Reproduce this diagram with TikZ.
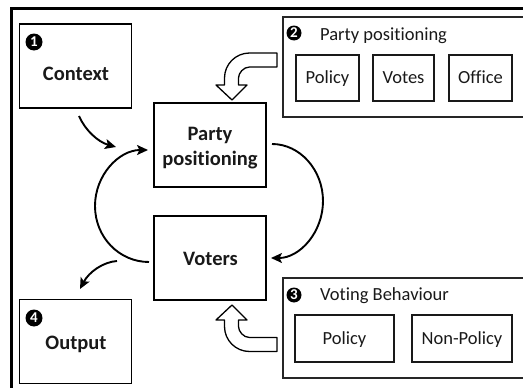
\documentclass[tikz,border=0pt]{standalone}
\usepackage{fontspec}
\setmainfont{Carlito}[Ligatures={NoCommon},RawFeature={-calt;-dlig}]
\usetikzlibrary{arrows.meta}
\begin{document}
\begin{tikzpicture}[x=1pt,y=-1pt,
  mainbox/.style={draw=black,line width=1.3pt,minimum width=112pt,minimum height=84pt,inner sep=0pt},
  maintext/.style={anchor=base,inner sep=0pt,font=\fontsize{20.5}{25}\selectfont\bfseries,text=black!90},
  groupbox/.style={draw=black!85,line width=1.3pt,minimum width=257pt,minimum height=100pt,inner sep=0pt},
  grouptext/.style={anchor=base west,inner sep=0pt,font=\fontsize{18.5}{22}\selectfont,text=black!90},
  subbox/.style={draw=black!90,line width=1.2pt,minimum height=46pt,inner sep=0pt,text height=11pt,text depth=0pt,font=\fontsize{18.5}{22}\selectfont,text=black!90},
  badge/.style={circle,fill=black,text=white,inner sep=0pt,minimum size=#1,font=\fontsize{15}{15}\selectfont\bfseries},
  flow/.style={line width=1.9pt,-{Stealth[length=11pt,width=10pt,inset=2.5pt]}},
  blockarrow/.style={draw=black,line width=1.3pt,fill=white,line join=round}
]
\useasboundingbox (0,0) rectangle (523,388);
\clip (0,0) rectangle (523,388);
% outer frame
\draw[line width=2.4pt] (11.3,8.3) rectangle (540,400);

% main boxes
\node[mainbox] (ctx) at (75.5,66) {};
\node[maintext] (ctxt) at (76,80) {Context};
\node[badge=17pt] (b1) at (34,42) {1};

\node[mainbox] (party) at (210,145) {};
\node[maintext] (partyt1) at (210,140) {Party};
\node[maintext] (partyt2) at (210,165) {positioning};

\node[mainbox] (voters) at (210,258) {};
\node[maintext] (voterst) at (210.5,265) {Voters};

\node[mainbox] (out) at (75.5,341.5) {};
\node[maintext] (outt) at (76,349) {Output};
\node[badge=17pt] (b4) at (34,318) {4};

% group 2
\node[groupbox] (g2) at (411.5,67) {};
\node[badge=15pt] (b2) at (294,33) {2};
\node[grouptext] (g2t) at (320,40) {Party positioning};
\node[subbox,minimum width=63pt] (p1) at (327.5,78) {Policy};
\node[subbox,minimum width=61pt] (p2) at (403.5,78) {Votes};
\node[subbox,minimum width=63pt] (p3) at (480.5,78) {Office};

% group 3
\node[groupbox] (g3) at (411.5,328) {};
\node[badge=15pt] (b3) at (294,295) {3};
\node[grouptext] (g3t) at (320,300) {Voting Behaviour};
\node[subbox,minimum width=99pt,minimum height=47pt] (v1) at (344.5,338.5) {Policy};
\node[subbox,minimum width=100pt,minimum height=47pt] (v2) at (462,338.5) {Non-Policy};

% block arrows
\draw[blockarrow] (232,100) -- (216,85) -- (224.5,85) -- (224.5,78)
  .. controls (224.5,64.2) and (235.7,53) .. (249.5,53) -- (277,53) -- (277,67) -- (249.5,67)
  .. controls (243.4,67) and (238.5,73.1) .. (238.5,78) -- (238.5,85) -- (247,85) -- cycle;
\draw[blockarrow] (232,305) -- (216,320) -- (224.5,320) -- (224.5,326.5)
  .. controls (224.5,340.3) and (235.7,351.5) .. (249.5,351.5) -- (277,351.5) -- (277,337.5) -- (249.5,337.5)
  .. controls (243.4,337.5) and (238.5,331.4) .. (238.5,326.5) -- (238.5,320) -- (247,320) -- cycle;

% flow arrows
\coordinate (c1s) at (79,116);
\coordinate (c1e) at (116,147);
\draw[flow] (c1s) .. controls (85,130) and (98,142) .. (c1e);

\coordinate (c2s) at (149,262);
\coordinate (c2m) at (95,206);
\coordinate (c2e) at (148,150);
\draw[flow] (c2s) .. controls (119,262) and (95,237) .. (c2m) .. controls (95,175) and (119,150) .. (c2e);

\coordinate (c3s) at (272,144);
\coordinate (c3m) at (323,201);
\coordinate (c3e) at (271,258);
\draw[flow] (c3s) .. controls (300,144) and (323,170) .. (c3m) .. controls (323,232) and (300,258) .. (c3e);

\coordinate (c4s) at (117,261);
\coordinate (c4e) at (80,289);
\draw[flow] (c4s) .. controls (103,262) and (89,272) .. (c4e);
\end{tikzpicture}
\end{document}
